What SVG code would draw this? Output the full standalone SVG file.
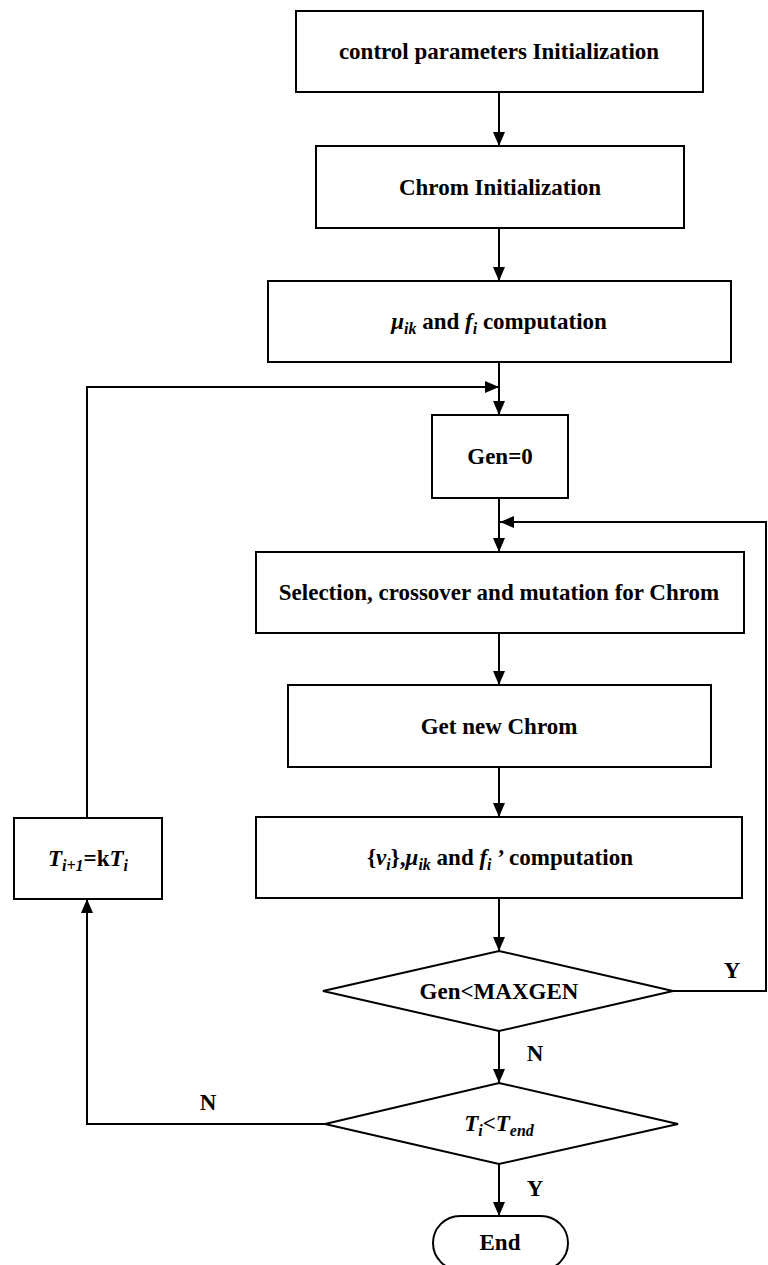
<svg xmlns="http://www.w3.org/2000/svg" width="768" height="1265" viewBox="0 0 768 1265">
<defs>
<marker id="ah" viewBox="0 0 14 12" refX="14" refY="6" markerWidth="14" markerHeight="12" markerUnits="userSpaceOnUse" orient="auto">
<path d="M0,0 L14,6 L0,12 Z" fill="#000"/>
</marker>
<style>
.box{fill:#fff;stroke:#000;stroke-width:2}
.ln{fill:none;stroke:#000;stroke-width:2}
.i{font-style:italic}
.sub{font-size:16px;font-style:italic}
</style>
</defs>
<rect width="768" height="1265" fill="#fff"/>
<g font-family="Liberation Serif, Times New Roman, serif" font-weight="bold" font-size="23" text-anchor="middle" fill="#000">
<g id="connectors">
<line class="ln" x1="499" y1="92" x2="499" y2="146" marker-end="url(#ah)"/>
<line class="ln" x1="499" y1="228" x2="499" y2="281" marker-end="url(#ah)"/>
<line class="ln" x1="499" y1="362" x2="499" y2="415" marker-end="url(#ah)"/>
<polyline class="ln" points="87,818 87,387 499,387" marker-end="url(#ah)"/>
<line class="ln" x1="499" y1="498" x2="499" y2="552" marker-end="url(#ah)"/>
<polyline class="ln" points="673,991 766,991 766,522 500,522" marker-end="url(#ah)"/>
<line class="ln" x1="499" y1="633" x2="499" y2="685" marker-end="url(#ah)"/>
<line class="ln" x1="499" y1="767" x2="499" y2="817" marker-end="url(#ah)"/>
<line class="ln" x1="499" y1="898" x2="499" y2="951" marker-end="url(#ah)"/>
<line class="ln" x1="499" y1="1031" x2="499" y2="1083" marker-end="url(#ah)"/>
<polyline class="ln" points="325,1124 87,1124 87,899" marker-end="url(#ah)"/>
<line class="ln" x1="499" y1="1164" x2="499" y2="1216" marker-end="url(#ah)"/>
<text x="732" y="978">Y</text>
<text x="535" y="1061">N</text>
<text x="208" y="1110">N</text>
<text x="535" y="1196">Y</text>
</g>
<g id="n1">
<rect class="box" x="296" y="11" width="407" height="81"/>
<text x="499" y="59">control parameters Initialization</text>
</g>
<g id="n2">
<rect class="box" x="316" y="146" width="368" height="82"/>
<text x="500" y="195">Chrom Initialization</text>
</g>
<g id="n3">
<rect class="box" x="268" y="281" width="463" height="81"/>
<text x="499" y="329"><tspan class="i">μ</tspan><tspan class="sub" dy="5">ik</tspan><tspan dy="-5"> and </tspan><tspan class="i">f</tspan><tspan class="sub" dy="5">i</tspan><tspan dy="-5"> computation</tspan></text>
</g>
<g id="n4">
<rect class="box" x="432" y="415" width="136" height="83"/>
<text x="500" y="464">Gen=0</text>
</g>
<g id="n5">
<rect class="box" x="256" y="552" width="488" height="81"/>
<text x="499" y="600">Selection, crossover and mutation for Chrom</text>
</g>
<g id="n6">
<rect class="box" x="288" y="685" width="423" height="82"/>
<text x="499" y="734">Get new Chrom</text>
</g>
<g id="n7">
<rect class="box" x="256" y="817" width="486" height="81"/>
<text x="500" y="865">{<tspan class="i">v</tspan><tspan class="sub" dy="5">i</tspan><tspan dy="-5">},</tspan><tspan class="i">μ</tspan><tspan class="sub" dy="5">ik</tspan><tspan dy="-5"> and </tspan><tspan class="i">f</tspan><tspan class="sub" dy="5">i</tspan><tspan dy="-5"> ’  computation</tspan></text>
</g>
<g id="n8">
<rect class="box" x="14" y="818" width="148" height="81"/>
<text x="88" y="866"><tspan class="i">T</tspan><tspan class="sub" dy="5">i+1</tspan><tspan dy="-5">=k</tspan><tspan class="i">T</tspan><tspan class="sub" dy="5">i</tspan></text>
</g>
<g id="n9">
<polygon class="box" points="499,951 673,991 499,1031 323,991"/>
<text x="499" y="999">Gen&lt;MAXGEN</text>
</g>
<g id="n10">
<polygon class="box" points="499,1083 678,1124 499,1164 325,1124"/>
<text x="499" y="1131"><tspan class="i">T</tspan><tspan class="sub" dy="5">i</tspan><tspan dy="-5" class="i">&lt;T</tspan><tspan class="sub" dy="5">end</tspan></text>
</g>
<g id="n11">
<rect class="box" x="433" y="1216" width="135" height="54" rx="27" ry="27"/>
<text x="500" y="1250">End</text>
</g>
</g>
</svg>
